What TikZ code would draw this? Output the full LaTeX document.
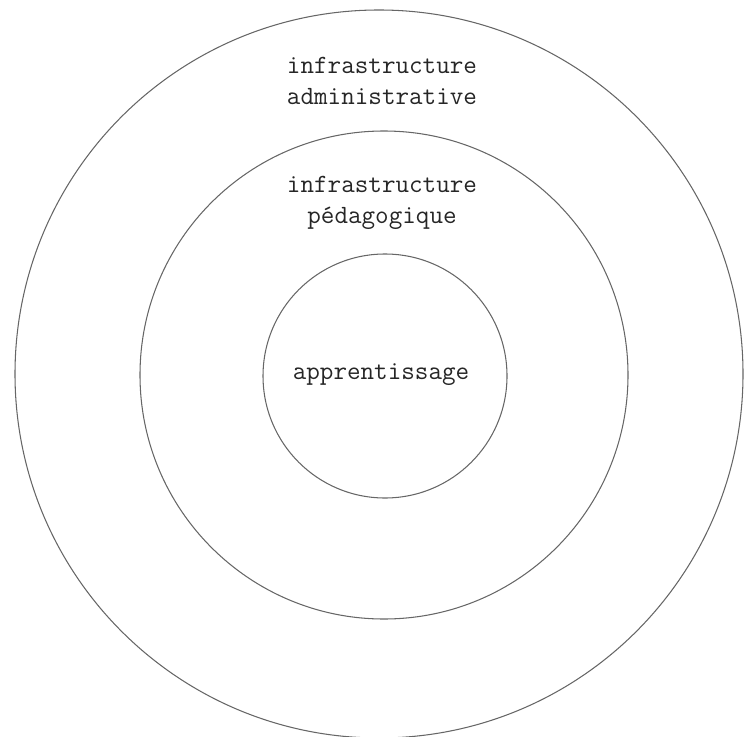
\documentclass[tikz,border=0pt]{standalone}
\usepackage{fontspec}
\tikzset{
    ring/.style={draw=black!60, line width=0.6pt},
    ringtext/.style={font=\ttfamily\fontsize{15}{17.6}\selectfont, text=black!85, align=center, inner sep=0pt}
}
\begin{document}
\begin{tikzpicture}[x=0.02cm, y=-0.02cm]
    % Frame
    \useasboundingbox (0,0) rectangle (746,736);
    % Rings
    \draw[ring] (379,374) circle (364); % outer
    \draw[ring] (384,375) circle (244); % middle
    \draw[ring] (385,376) circle (122); % inner
    % Labels
    \node[ringtext] (admin) at (382,81) {infrastructure\\administrative};
    \node[ringtext] (peda) at (382,203) {infrastructure\\p\'edagogique};
    \node[ringtext] (appr) at (381,375) {apprentissage};
\end{tikzpicture}
\end{document}
